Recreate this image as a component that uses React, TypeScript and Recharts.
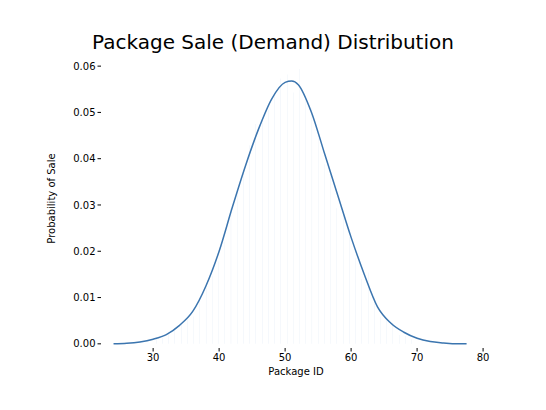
import React from "react";
import { ComposedChart, Bar, Line, XAxis, YAxis, Label } from "recharts";

// histogram bin centres and densities
const binCenters = [
  30.47, 31.42, 32.36, 33.3, 34.25, 35.19, 36.14, 37.08, 38.02, 38.97, 39.91,
  40.86, 41.8, 42.74, 43.69, 44.63, 45.58, 46.52, 47.46, 48.41, 49.35, 50.3,
  51.24, 52.18, 53.13, 54.07, 55.02, 55.96, 56.9, 57.85, 58.79, 59.74, 60.68,
  61.62, 62.57, 63.51, 64.46, 65.4, 66.34, 67.29, 68.23, 69.18,
];
const binDensity = [
  0.0014, 0.0016, 0.0023, 0.0034, 0.0046, 0.0053, 0.0059, 0.01, 0.0122, 0.0147,
  0.0178, 0.0221, 0.0293, 0.0332, 0.0379, 0.0429, 0.0475, 0.0482, 0.0505,
  0.0543, 0.0573, 0.0582, 0.0543, 0.0594, 0.053, 0.0509, 0.0444, 0.0388,
  0.0374, 0.0293, 0.028, 0.0232, 0.0185, 0.014, 0.0154, 0.0102, 0.0059, 0.0053,
  0.0045, 0.0019, 0.0017, 0.001,
];

// KDE curve
const kdeX = [
  24, 26, 28, 30, 32, 34, 36, 38, 40, 42, 44, 46, 48, 50, 51, 52, 54, 56, 58,
  60, 62, 64, 66, 68, 70, 72, 74, 76, 77.5,
];
const kdeY = [
  0, 0.0001, 0.0004, 0.001, 0.002, 0.004, 0.007, 0.0125, 0.02, 0.0295, 0.0385,
  0.0465, 0.053, 0.0565, 0.0568, 0.056, 0.05, 0.041, 0.032, 0.023, 0.015,
  0.008, 0.0045, 0.0025, 0.0012, 0.0005, 0.0002, 0, 0,
];

const xTicks = [30, 40, 50, 60, 70, 80];
const yTicks = [0, 0.01, 0.02, 0.03, 0.04, 0.05, 0.06];

const bars = binCenters.map((x, i) => ({ x, d: binDensity[i] }));
const kde = kdeX.map((x, i) => ({ x, k: kdeY[i] }));

const font = "DejaVu Sans";

export default function App() {
  return (
    <div style={{ position: "absolute", left: 0, top: 0, width: 546, height: 410, background: "#fff", fontFamily: font }}>
      <div style={{ position: "absolute", top: 30, width: 546, textAlign: "center", fontSize: 20, color: "#000" }}>
        Package Sale (Demand) Distribution
      </div>
      <ComposedChart
        width={546}
        height={410}
        data={bars}
        margin={{ top: 49, right: 55, left: 68, bottom: 32 }}
        barCategoryGap={0}
        barGap={0}
      >
        <XAxis
          dataKey="x"
          type="number"
          domain={[22.1, 81.2]}
          ticks={xTicks}
          allowDataOverflow
          axisLine={false}
          tickSize={3.5}
          height={30}
          tick={{ fontSize: 10, fill: "#000", fontFamily: font }}
          tickLine={{ stroke: "#000" }}
        >
          <Label value="Package ID" position="insideBottom" offset={3} style={{ fontSize: 10, fill: "#000", fontFamily: font }} />
        </XAxis>
        <YAxis
          type="number"
          domain={[-0.0009, 0.0637]}
          ticks={yTicks}
          allowDataOverflow
          axisLine={false}
          tickSize={3.5}
          width={33}
          tickFormatter={(v: number) => v.toFixed(2)}
          tick={{ fontSize: 10, fill: "#000", fontFamily: font }}
          tickLine={{ stroke: "#000" }}
        >
          <Label value="Probability of Sale" angle={-90} position="insideLeft" offset={-17} style={{ fontSize: 10, fill: "#000", fontFamily: font, textAnchor: "middle" }} />
        </YAxis>
        <Bar dataKey="d" fill="#aec7e0" barSize={6.3} isAnimationActive={false} />
        <Line
          data={kde}
          dataKey="k"
          type="monotone"
          stroke="#3b75af"
          strokeWidth={1.5}
          dot={false}
          isAnimationActive={false}
        />
      </ComposedChart>
    </div>
  );
}
